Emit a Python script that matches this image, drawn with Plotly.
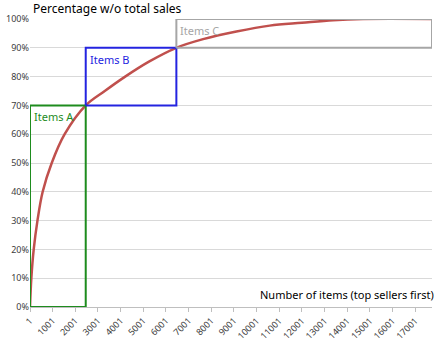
import plotly.graph_objects as go

# Cumulative share of sales vs number of items
items = [1, 60, 165, 330, 560, 960, 1530, 2460, 3300, 4200, 5250, 6460, 7640, 9110, 10580, 12000, 13380, 14700, 17740]
share = [0.0, 0.10, 0.20, 0.30, 0.40, 0.50, 0.60, 0.70, 0.75, 0.80, 0.852, 0.90, 0.930, 0.9565, 0.977, 0.987, 0.996, 1.0, 1.0]

tick_items = [1, 1001, 2001, 3001, 4001, 5001, 6001, 7001, 8001, 9001, 10001,
              11001, 12001, 13001, 14001, 15001, 16001, 17001]
tick_labels = [str(t) for t in tick_items]

# Boxes: name, x0, x1, y0, y1, color
box_names = ["Items A", "Items B", "Items C"]
box_x0 = [1, 2460, 6460]
box_x1 = [2460, 6460, 17740]
box_y0 = [0.0, 0.70, 0.90]
box_y1 = [0.70, 0.90, 1.0]
box_colors = ["#1E8C1E", "#2424E0", "#A6A6A6"]

fig = go.Figure()
fig.add_trace(go.Scatter(x=items, y=share, mode="lines",
                         line=dict(color="#C0504D", width=2.5, shape="spline", smoothing=1.0),
                         hoverinfo="skip", showlegend=False))

for n, x0, x1, y0, y1, c in zip(box_names, box_x0, box_x1, box_y0, box_y1, box_colors):
    fig.add_trace(go.Scatter(x=[x0, x1, x1, x0, x0], y=[y0, y0, y1, y1, y0], mode="lines",
                             line=dict(color=c, width=2), cliponaxis=False,
                             hoverinfo="skip", showlegend=False))
    fig.add_annotation(x=x0, y=y1, xref="x", yref="y", text=n, showarrow=False,
                       xanchor="left", yanchor="top", xshift=2, yshift=-2,
                       font=dict(family="Noto Sans", size=11, color=c))

fig.add_annotation(x=1, y=0.0, xref="paper", yref="y", text="Number of items (top sellers first)",
                   showarrow=False, xanchor="right", yanchor="bottom", xshift=4, yshift=3,
                   font=dict(family="Noto Sans", size=11, color="#000000"))
fig.add_annotation(x=0, y=1, xref="paper", yref="paper", text="Percentage w/o total sales",
                   showarrow=False, xanchor="left", yanchor="bottom", xshift=1, yshift=0,
                   font=dict(family="Noto Sans", size=12, color="#000000"))

fig.update_xaxes(range=[1, 17740], tickvals=tick_items, ticktext=tick_labels,
                 tickangle=-45, showgrid=False, zeroline=False, automargin=False,
                 showline=True, linecolor="#BFBFBF", linewidth=1,
                 ticks="outside", ticklen=4, tickcolor="#BFBFBF",
                 tickfont=dict(family="Noto Sans", size=9, color="#404040"))
fig.update_yaxes(range=[0, 1], tickvals=[i / 10 for i in range(11)], tickformat=".0%",
                 showgrid=True, gridcolor="#D9D9D9", gridwidth=1, zeroline=False,
                 showline=False, ticks="", automargin=False,
                 tickfont=dict(family="Noto Sans", size=9, color="#404040"))

fig.update_layout(width=439, height=346, margin=dict(l=30, r=7, t=19, b=39),
                  plot_bgcolor="white", paper_bgcolor="white")

fig.write_html("out.html")
